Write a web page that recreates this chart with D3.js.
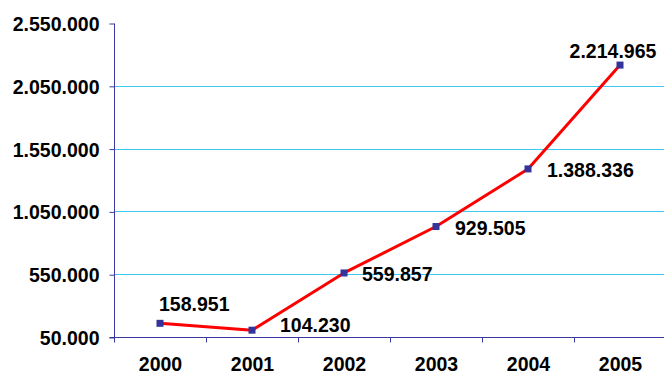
<!DOCTYPE html>
<html>
<head>
<meta charset="utf-8">
<script src="https://cdn.jsdelivr.net/npm/d3@7"></script>
<style>
  html, body { margin: 0; padding: 0; background: #fff; }
  svg { display: block; }
  text { font-family: "Liberation Sans", Arial, sans-serif; font-weight: bold; font-size: 19.5px; fill: #000; }
</style>
</head>
<body>
<svg id="chart" width="664" height="373"></svg>
<script>
// Yearly totals
const years = ["2000", "2001", "2002", "2003", "2004", "2005"];
const values = [158951, 104230, 559857, 929505, 1388336, 2214965];
const yTicks = [50000, 550000, 1050000, 1550000, 2050000, 2550000];
// Label placement relative to each point: [dx, dy, anchor]
const labelOffsets = [
  [-1, -19, "start"],
  [28, -5, "start"],
  [18, 1, "start"],
  [19, 1, "start"],
  [19, 1, "start"],
  [-7, -14, "middle"]
];

const fmt = v => d3.format(",")(v).replace(/,/g, ".");

const svg = d3.select("#chart");
const plotLeft = 114, plotTop = 23, plotBottom = 337, bandW = 92;

const x = d3.scaleBand().domain(years).range([plotLeft, plotLeft + bandW * years.length]);
const y = d3.scaleLinear().domain([50000, 2550000]).range([plotBottom, plotTop]);

// Horizontal gridlines
svg.append("g")
  .selectAll("line")
  .data(yTicks.slice(1, -1))
  .join("line")
  .attr("x1", plotLeft + 1).attr("x2", 664)
  .attr("y1", d => Math.round(y(d)) + 0.5).attr("y2", d => Math.round(y(d)) + 0.5)
  .attr("stroke", "#3fc9f2").attr("stroke-width", 1.2);

// Y axis
const yAxis = svg.append("g")
  .attr("transform", `translate(${plotLeft + 0.5},0.5)`)
  .call(d3.axisLeft(y).tickValues(yTicks).tickFormat(fmt).tickSize(5).tickPadding(10));
yAxis.select(".domain").attr("stroke", "#3a3aa0").attr("d", `M0,${plotTop}V${plotBottom}`);
yAxis.selectAll(".tick line").attr("stroke", "#3a3aa0");
yAxis.selectAll(".tick text").attr("dy", "0.36em");

// X axis
const xAxis = svg.append("g")
  .attr("transform", `translate(0.5,${plotBottom + 0.5})`)
  .call(d3.axisBottom(x).tickSize(0).tickPadding(0));
xAxis.select(".domain").attr("stroke", "#3a3aa0").attr("d", `M${plotLeft - 5},0H664`);
xAxis.selectAll(".tick text").attr("y", 33).attr("dy", 0);
// Category boundary ticks
xAxis.append("g")
  .selectAll("line")
  .data(years)
  .join("line")
  .attr("x1", d => Math.round(x(d))).attr("x2", d => Math.round(x(d)))
  .attr("y1", 0).attr("y2", 5)
  .attr("stroke", "#3a3aa0");

const cx = d => x(d) + x.bandwidth() / 2;

// Line
const line = d3.line().x((d, i) => cx(years[i])).y(d => y(d));
svg.append("path")
  .datum(values)
  .attr("d", line)
  .attr("fill", "none")
  .attr("stroke", "#ff0000")
  .attr("stroke-width", 3)
  .attr("stroke-linejoin", "round");

// Markers
svg.append("g")
  .selectAll("rect")
  .data(values)
  .join("rect")
  .attr("x", (d, i) => cx(years[i]) - 3.5)
  .attr("y", d => y(d) - 3.5)
  .attr("width", 7).attr("height", 7)
  .attr("fill", "#333399");

// Value labels
svg.append("g")
  .selectAll("text")
  .data(values)
  .join("text")
  .attr("x", (d, i) => cx(years[i]) + labelOffsets[i][0])
  .attr("y", (d, i) => y(d) + labelOffsets[i][1])
  .attr("dy", "0.36em")
  .attr("text-anchor", (d, i) => labelOffsets[i][2])
  .text(fmt);
</script>
</body>
</html>
